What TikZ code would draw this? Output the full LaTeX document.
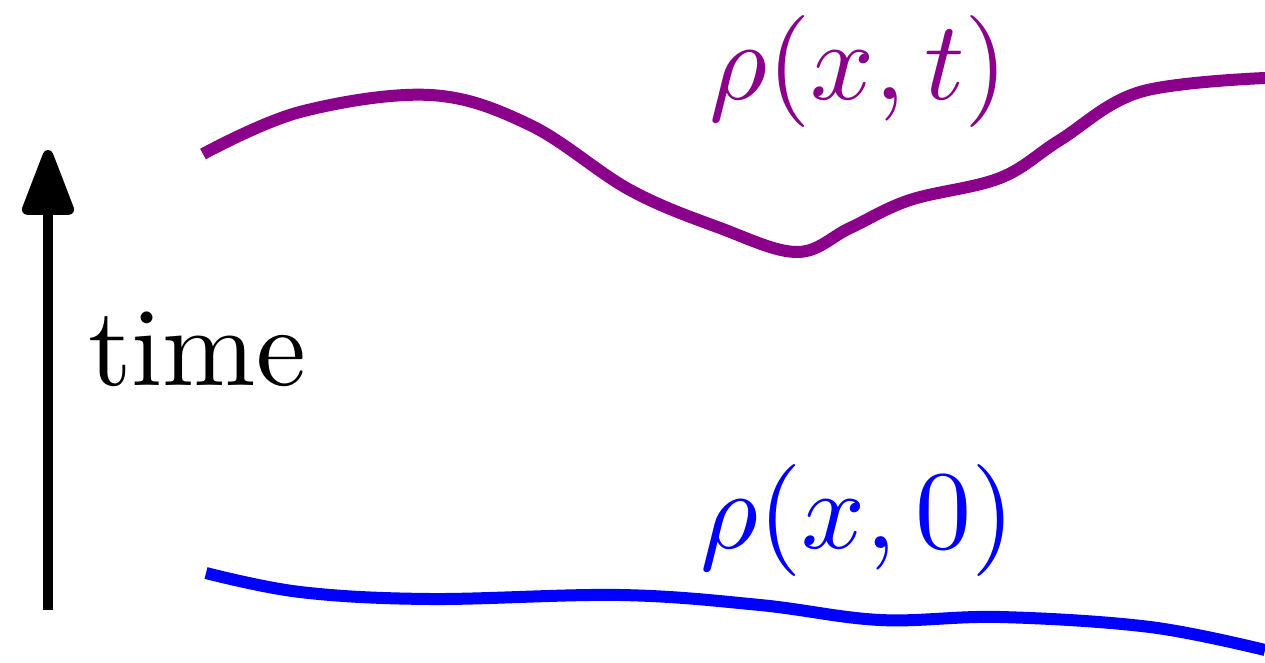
\documentclass[tikz,border=0pt]{standalone}
\usepackage{graphicx}
\usetikzlibrary{arrows.meta}
\definecolor{rhopurple}{RGB}{139,0,139}
\begin{document}
\begin{tikzpicture}[x=1pt,y=-1pt,
  curve/.style={line width=12pt,smooth,tension=0.6},
  lbl/.style={inner sep=0pt,anchor=base west}]
\useasboundingbox (0,0) rectangle (1265,663);
\coordinate (tb) at (48,610);
\coordinate (tt) at (48,150);
\draw[line width=10.5pt,-{Triangle[length=75pt,width=54pt,round]}] (tb) -- (tt);
\node[lbl] (time) at (88,385) {\scalebox{11.2}{time}};
\draw[curve,rhopurple] plot coordinates {(203,154) (300,112) (430,95) (530,125) (630,190) (720,228) (797,252) (850,228) (910,200) (1000,178) (1060,140) (1140,92) (1265,78)};
\draw[curve,blue] plot coordinates {(206,573) (300,592) (430,599) (620,595) (760,605) (880,620) (1000,617) (1150,627) (1265,650)};
\node[lbl,text=rhopurple] (rt) at (709,100) {\scalebox{11.2}{$\rho(x,t)$}};
\node[lbl,text=blue] (r0) at (700,548) {\scalebox{11.2}{$\rho(x,0)$}};
\end{tikzpicture}
\end{document}
